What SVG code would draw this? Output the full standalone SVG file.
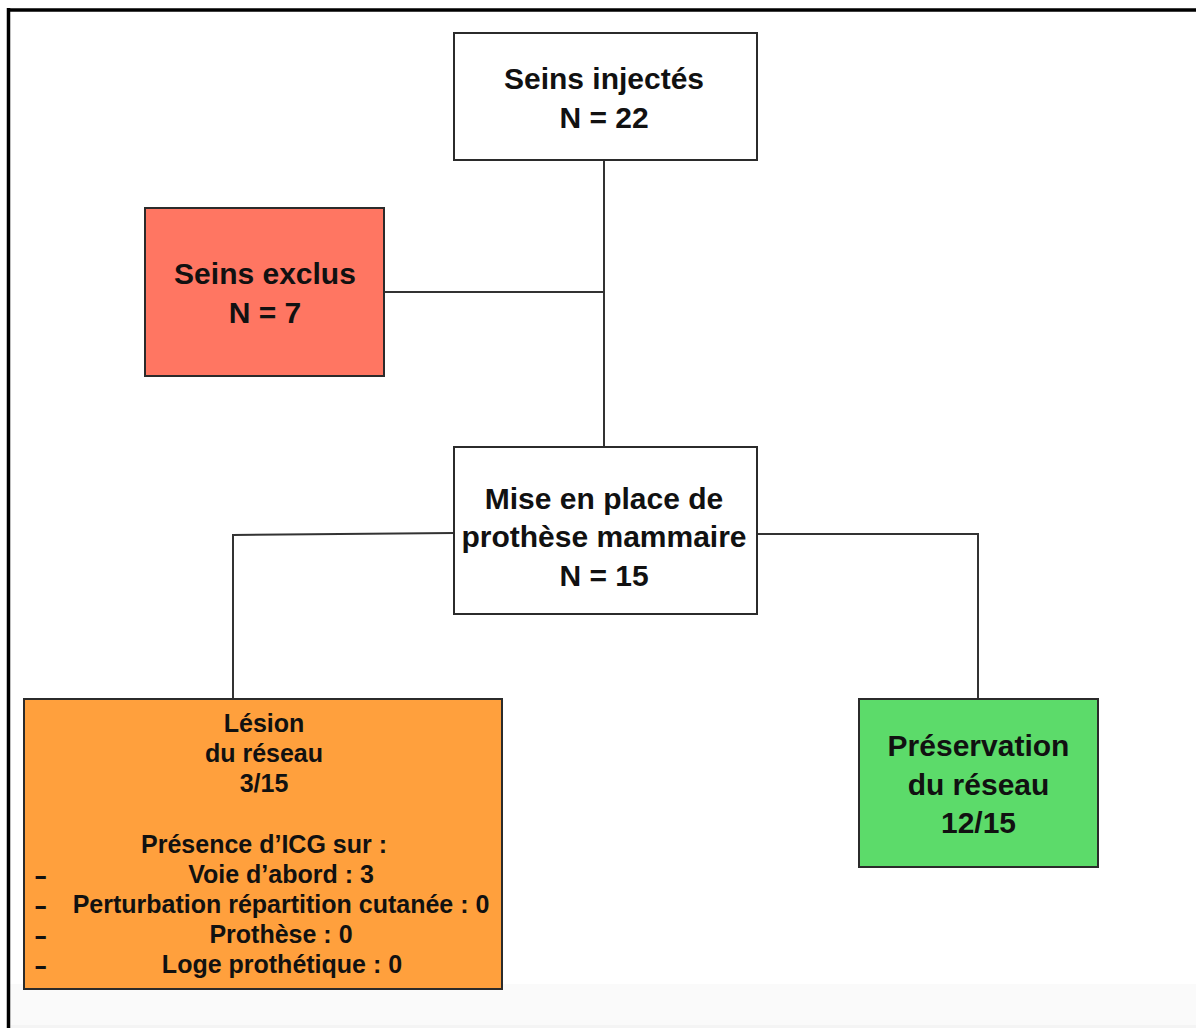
<svg xmlns="http://www.w3.org/2000/svg" width="1196" height="1028" viewBox="0 0 1196 1028">
  <style>
    .box { stroke: #2b2b2b; stroke-width: 2; }
    .t { font-family: "Liberation Sans", Arial, sans-serif; font-weight: bold; fill: #111; text-anchor: middle; }
    .big { font-size: 30px; }
    .small { font-size: 25px; }
    .dash { font-family: "Liberation Sans", Arial, sans-serif; font-weight: bold; font-size: 25px; fill: #111; }
    .conn { stroke: #333; stroke-width: 2; fill: none; }
  </style>
  <rect x="0" y="0" width="1196" height="1028" fill="#ffffff"/>
  <rect x="10" y="984" width="1186" height="44" fill="#fafafa"/>
  <rect x="10" y="1025" width="1186" height="3" fill="#f4f4f4"/>
  <g id="frame">
    <line x1="7" y1="10" x2="1196" y2="10" stroke="#000" stroke-width="3.5"/>
    <line x1="8.5" y1="8" x2="8.5" y2="1028" stroke="#000" stroke-width="3.5"/>
  </g>
  <g id="connectors">
    <line class="conn" x1="604" y1="160" x2="604" y2="446"/>
    <line class="conn" x1="384" y1="292" x2="604" y2="292"/>
    <polyline class="conn" points="454,533 233,535 233,699"/>
    <polyline class="conn" points="757,534 978,534 978,699"/>
  </g>
  <g id="node-injectes">
    <rect class="box" x="454" y="33" width="303" height="127" fill="#ffffff"/>
    <text class="t big" x="604" y="89">Seins injectés</text>
    <text class="t big" x="604" y="128">N = 22</text>
  </g>
  <g id="node-exclus">
    <rect class="box" x="145" y="208" width="239" height="168" fill="#ff7662"/>
    <text class="t big" x="265" y="284">Seins exclus</text>
    <text class="t big" x="265" y="323">N = 7</text>
  </g>
  <g id="node-prothese">
    <rect class="box" x="454" y="447" width="303" height="167" fill="#ffffff"/>
    <text class="t big" x="604" y="509">Mise en place de</text>
    <text class="t big" x="604" y="547">prothèse mammaire</text>
    <text class="t big" x="604" y="586">N = 15</text>
  </g>
  <g id="node-lesion">
    <rect class="box" x="24" y="699" width="478" height="290" fill="#ffa03d"/>
    <text class="t small" x="264" y="732">Lésion</text>
    <text class="t small" x="264" y="762">du réseau</text>
    <text class="t small" x="264" y="792">3/15</text>
    <text class="t small" x="264" y="853">Présence d’ICG sur :</text>
    <text class="t small" x="281" y="883">Voie d’abord : 3</text>
    <text class="t small" x="281" y="913">Perturbation répartition cutanée : 0</text>
    <text class="t small" x="281" y="943">Prothèse : 0</text>
    <text class="t small" x="282" y="973">Loge prothétique : 0</text>
    <text class="dash" transform="translate(34,884) scale(1.6,1)">-</text>
    <text class="dash" transform="translate(34,914) scale(1.6,1)">-</text>
    <text class="dash" transform="translate(34,944) scale(1.6,1)">-</text>
    <text class="dash" transform="translate(34,974) scale(1.6,1)">-</text>
  </g>
  <g id="node-preservation">
    <rect class="box" x="859" y="699" width="239" height="168" fill="#5cdb6a"/>
    <text class="t big" x="978.5" y="756">Préservation</text>
    <text class="t big" x="978.5" y="795">du réseau</text>
    <text class="t big" x="978.5" y="833">12/15</text>
  </g>
</svg>
